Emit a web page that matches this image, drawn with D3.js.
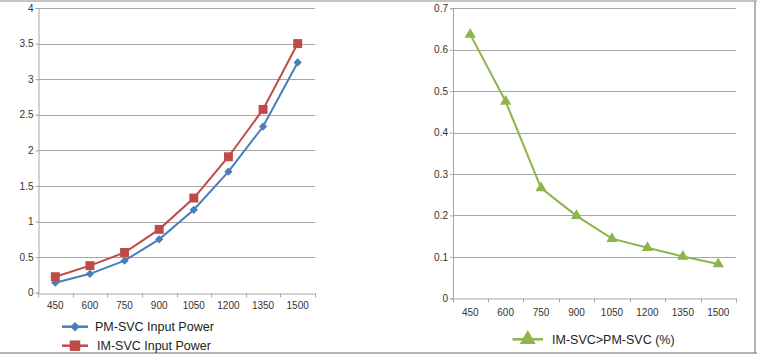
<!DOCTYPE html>
<html><head><meta charset="utf-8">
<script src="https://cdn.jsdelivr.net/npm/d3@7"></script>
<style>
html,body{margin:0;padding:0;background:#fff;}
svg{display:block;}
</style></head>
<body>
<svg id="c" width="757" height="355"></svg>
<script>
const categories = ["450","600","750","900","1050","1200","1350","1500"];
const pmInput = [0.14,0.265,0.45,0.75,1.165,1.70,2.335,3.235];
const imInput = [0.225,0.38,0.565,0.89,1.33,1.91,2.575,3.50];
const diffPct = [0.637,0.475,0.266,0.199,0.144,0.122,0.101,0.083];
const leftTicks = [0,0.5,1,1.5,2,2.5,3,3.5,4];
const rightTicks = [0,0.1,0.2,0.3,0.4,0.5,0.6,0.7];

const svg = d3.select("#c");
const tickFont = "'Liberation Sans', Arial, sans-serif";
const gridCol = "#a6a6a6";

// frame lines
svg.append("line").attr("x1",0).attr("x2",757).attr("y1",1).attr("y2",1).attr("stroke","#b0b0b0").attr("stroke-width",1.5);
svg.append("line").attr("x1",0).attr("x2",757).attr("y1",353).attr("y2",353).attr("stroke","#9a9a9a").attr("stroke-width",1.5);
svg.append("line").attr("x1",755).attr("x2",755).attr("y1",1).attr("y2",353).attr("stroke","#9a9a9a").attr("stroke-width",1.5);

function markerPath(type,size){
  return d3.symbol().type(type==="diamond"?d3.symbolSquare:type).size(size)();
}
function markerRot(type){ return type==="diamond" ? " rotate(45)" : ""; }

function drawChart(opt){
  const g = svg.append("g");
  const x = d3.scaleBand().domain(categories).range([opt.x0,opt.x1]);
  const y = d3.scaleLinear().domain(opt.yDomain).range([opt.y0,opt.y1]);
  g.selectAll(".grid").data(opt.ticks.slice(1)).join("line")
    .attr("x1",opt.x0).attr("x2",opt.x1)
    .attr("y1",d=>Math.round(y(d))+0.5).attr("y2",d=>Math.round(y(d))+0.5)
    .attr("stroke",gridCol).attr("stroke-width",1);
  const ya = d3.axisLeft(y).tickValues(opt.ticks).tickSize(3).tickFormat(d=>d3.format("")(d));
  const yg = g.append("g").attr("transform",`translate(${opt.x0+0.5},0)`).call(ya);
  yg.select(".domain").attr("stroke",gridCol);
  yg.selectAll(".tick line").attr("stroke",gridCol);
  yg.selectAll("text").attr("font-family",tickFont).attr("font-size",opt.tfs).attr("fill","#333").attr("x",-opt.ylabOff);
  const xa = d3.axisBottom(x).tickSize(0).tickSizeOuter(0);
  const xg = g.append("g").attr("transform",`translate(0,${Math.round(opt.y0)+0.5})`).call(xa);
  xg.select(".domain").attr("stroke",gridCol);
  xg.selectAll("text").attr("font-family",tickFont).attr("font-size",opt.tfs).attr("fill","#333").attr("dy",opt.xlabDy);
  const bounds = categories.map(c=>x(c)).concat([opt.x1]);
  xg.selectAll(".bt").data(bounds).join("line")
    .attr("x1",d=>Math.round(d)+0.5).attr("x2",d=>Math.round(d)+0.5).attr("y1",0).attr("y2",4)
    .attr("stroke",gridCol);
  const cx = c=>x(c)+x.bandwidth()/2;
  opt.series.forEach(s=>{
    const line = d3.line().x((d,i)=>cx(categories[i])).y(d=>y(d));
    g.append("path").datum(s.values).attr("d",line).attr("fill","none").attr("stroke",s.color).attr("stroke-width",2);
    g.selectAll(null).data(s.values).join("path")
      .attr("transform",(d,i)=>`translate(${cx(categories[i])},${y(d)})`+markerRot(s.symbol))
      .attr("d",markerPath(s.symbol,s.size))
      .attr("fill",s.color);
  });
  return {x,y};
}

drawChart({x0:38,x1:315,y0:292.7,y1:8,yDomain:[0,4],ticks:leftTicks,tfs:10,ylabOff:5,xlabDy:"1.25em",
  series:[
    {values:pmInput,color:"#4a7ebb",symbol:"diamond",size:34},
    {values:imInput,color:"#be4b48",symbol:d3.symbolSquare,size:80}
  ]});
drawChart({x0:452.5,x1:736,y0:298.3,y1:8.3,yDomain:[0,0.7],ticks:rightTicks,tfs:10,ylabOff:5,xlabDy:"1.4em",
  series:[
    {values:diffPct,color:"#8db54b",symbol:d3.symbolTriangle,size:55}
  ]});

const legends = [
  {x1:62,x2:88,y:326.7,tx:95,label:"PM-SVC Input Power",color:"#4a7ebb",symbol:"diamond",size:45},
  {x1:62,x2:88,y:345.7,tx:97,label:"IM-SVC Input Power",color:"#be4b48",symbol:d3.symbolSquare,size:110},
  {x1:512.5,x2:543,y:339.3,tx:552,label:"IM-SVC>PM-SVC (%)",color:"#8db54b",symbol:d3.symbolTriangle,size:110}
];
legends.forEach(l=>{
  svg.append("line").attr("x1",l.x1).attr("x2",l.x2).attr("y1",l.y).attr("y2",l.y).attr("stroke",l.color).attr("stroke-width",2.5);
  svg.append("path").attr("transform",`translate(${(l.x1+l.x2)/2},${l.y})`+markerRot(l.symbol)).attr("d",markerPath(l.symbol,l.size)).attr("fill",l.color);
  svg.append("text").attr("x",l.tx).attr("y",l.y).attr("dy","0.35em").attr("font-family","'Liberation Sans', Arial, sans-serif").attr("font-size",12.5).attr("fill","#222").text(l.label);
});
</script>
</body></html>
